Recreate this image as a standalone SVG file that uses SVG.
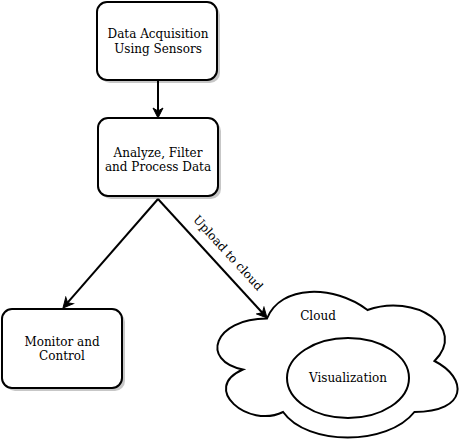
<svg xmlns="http://www.w3.org/2000/svg" width="468" height="445" viewBox="0 0 468 445">
<style>
.box{fill:#fff;stroke:#000;stroke-width:2}
.shadow{fill:#000;opacity:0.22}
.t{font-family:"DejaVu Serif",serif;font-size:12px;fill:#000;text-anchor:middle}
.edge{stroke:#000;stroke-width:2;fill:none}
</style>
<defs>
<marker id="arr" viewBox="-11 -6 12 12" refX="-7" refY="0" markerWidth="12" markerHeight="12" markerUnits="userSpaceOnUse" orient="auto">
<path d="M0,0 L-10,-5 L-7,0 L-10,5 Z" fill="#000" stroke="#000" stroke-width="1" stroke-linejoin="miter"/>
</marker>
</defs>
<g id="connectors">
<line class="edge" x1="158" y1="81" x2="158" y2="111" marker-end="url(#arr)"/>
<line class="edge" x1="158" y1="199" x2="67.6" y2="302.7" marker-end="url(#arr)"/>
<line class="edge" x1="158" y1="199" x2="262.3" y2="312.8" marker-end="url(#arr)"/>
<text class="t" x="228" y="257" transform="rotate(47.5 228 253)">Upload to cloud</text>
</g>
<g id="acquisition">
<rect class="shadow" x="100" y="5" width="120" height="78" rx="10"/>
<rect class="box" x="97" y="2" width="120" height="78" rx="10"/>
<text class="t" x="158" y="38">Data Acquisition</text>
<text class="t" x="158" y="53">Using Sensors</text>
</g>
<g id="analyze">
<rect class="shadow" x="101" y="121" width="120" height="78" rx="10"/>
<rect class="box" x="98" y="118" width="120" height="78" rx="10"/>
<text class="t" x="158" y="157">Analyze, Filter</text>
<text class="t" x="158" y="171">and Process Data</text>
</g>
<g id="monitor">
<rect class="shadow" x="5" y="312" width="120" height="79" rx="10"/>
<rect class="box" x="2" y="309" width="120" height="79" rx="10"/>
<text class="t" x="62" y="346">Monitor and</text>
<text class="t" x="62" y="360">Control</text>
</g>
<g id="cloud">
<path class="box" d="M267,318.5 C213.4,318.5 200,361 242.9,369.5 C200,388.2 248.2,429 283.1,412 C307.2,446 387.6,446 414.4,412 C468,412 468,378 434.5,361 C468,327 414.4,293 367.5,310 C334,284.5 280.4,284.5 267,318.5 Z"/>
<text class="t" x="318" y="320">Cloud</text>
</g>
<g id="visualization">
<ellipse class="box" cx="348" cy="378" rx="61" ry="40"/>
<text class="t" x="348" y="382">Visualization</text>
</g>
</svg>
